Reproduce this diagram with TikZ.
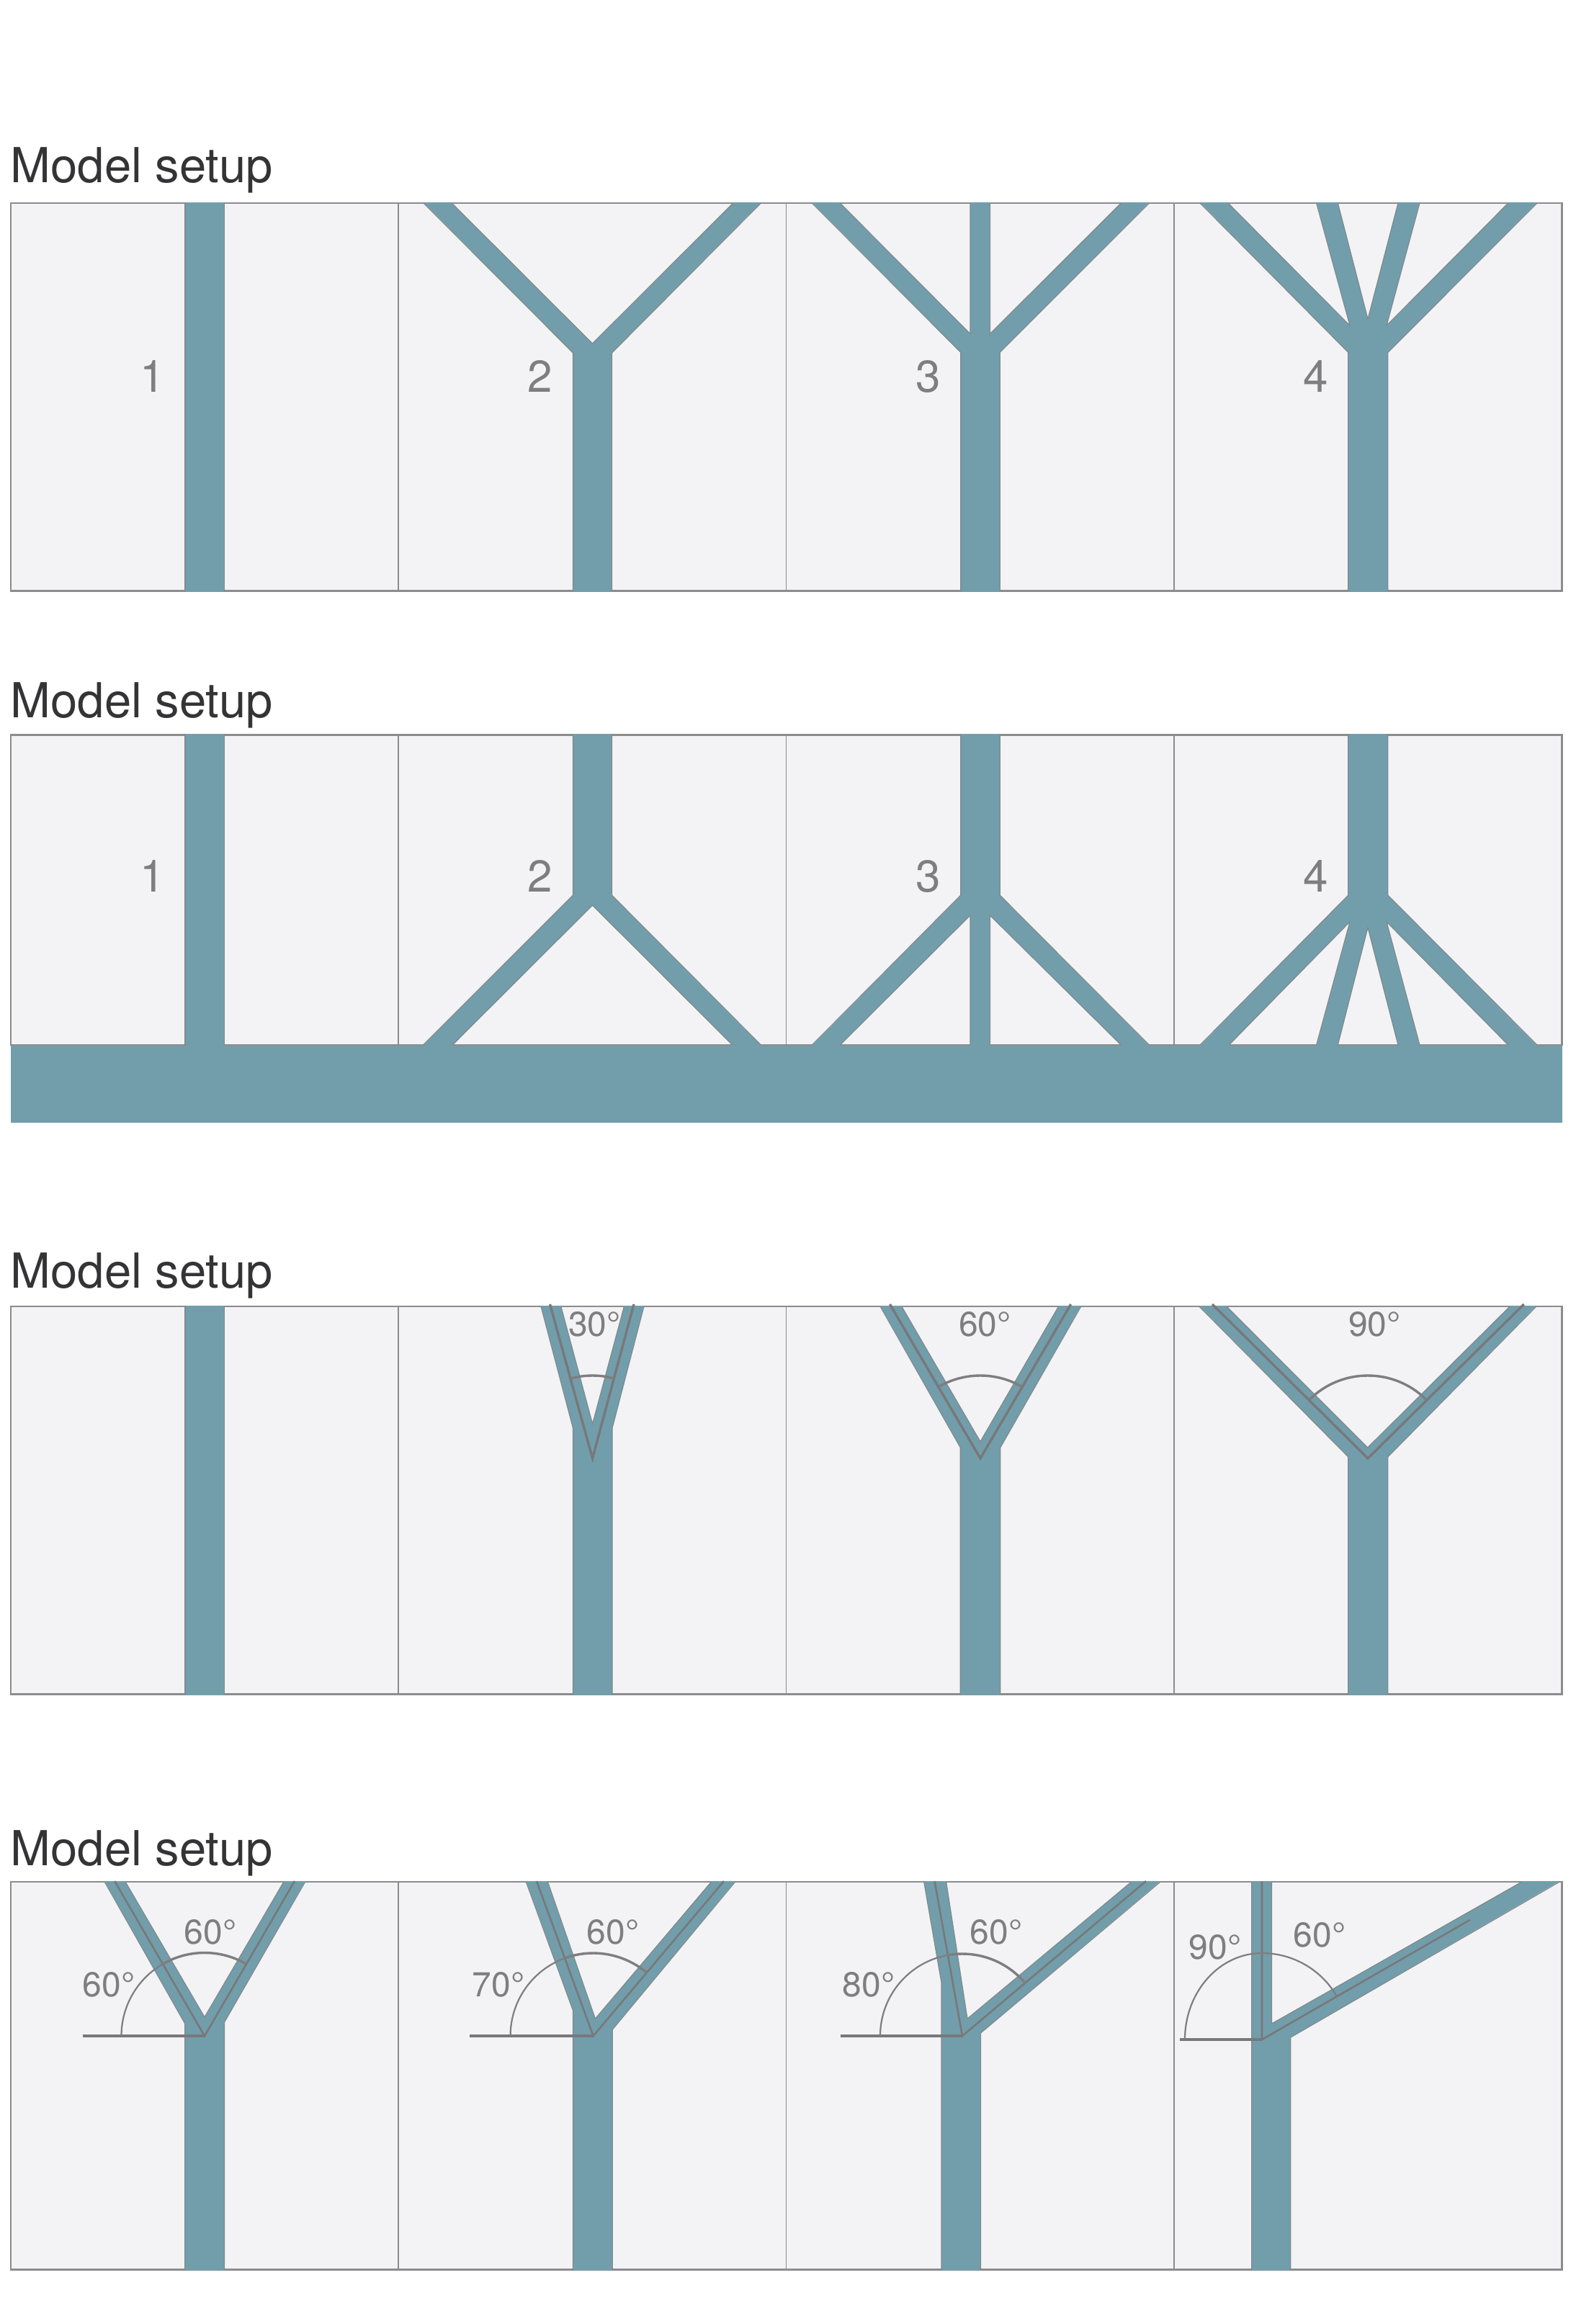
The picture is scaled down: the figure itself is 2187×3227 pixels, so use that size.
\documentclass[tikz,border=0pt]{standalone}
\usepackage{fontspec}
\setmainfont{TeX Gyre Heros}
\definecolor{teal0}{HTML}{729EAB}
\definecolor{edge0}{HTML}{7F8A8E}
\definecolor{pane0}{HTML}{F3F3F5}
\definecolor{rule0}{HTML}{8C8C8C}
\definecolor{ink0}{HTML}{7E7E80}
\definecolor{head0}{HTML}{343436}
\tikzset{
  panebg/.style={fill=pane0,draw=none},
  paneframe/.style={draw=rule0,line width=2.4pt},
  panediv/.style={draw=rule0,line width=1.5pt},
  tealbody/.style={fill=teal0,draw=none},
  tealedge/.style={draw=edge0,line width=1.2pt,line join=miter},
  gauge/.style={draw=ink0!95!black,line width=3.4pt,line join=miter,miter limit=10},
  arcthin/.style={draw=ink0,line width=2.2pt},
  arcthick/.style={draw=ink0,line width=3.4pt},
  headtxt/.style={anchor=base west,inner sep=0pt,text=head0,font=\fontsize{67}{67}\selectfont},
  numtxt/.style={anchor=base west,inner sep=0pt,text=ink0,font=\fontsize{62}{62}\selectfont},
  degtxt/.style={anchor=base west,inner sep=0pt,text=ink0,font=\fontsize{48}{48}\selectfont}
}
% full arc: centre x, centre y, radius, from angle, to angle, style
\newcommand{\myarc}[6]{\draw[#6] ({#1+#3*cos(#4)},{#2-#3*sin(#4)}) arc[start angle=-#4,end angle=-#5,radius=#3];}
\newcommand{\paneset}[2]{%
  \path[panebg] (15,#1) rectangle (2168.5,#2);
  \draw[panediv] (553,#1) -- (553,#2) (1091.5,#1) -- (1091.5,#2) (1630,#1) -- (1630,#2);
  \draw[paneframe] (15,#1) rectangle (2168.5,#2);
}
\newcommand{\stemone}[2]{%
  \path[tealbody] (257,#1) rectangle (311.5,#2);
  \draw[tealedge] (257,#1) -- (257,#2) (311.5,#1) -- (311.5,#2);
}
\begin{document}
\begin{tikzpicture}[x=1pt,y=-1pt]
\useasboundingbox (0,0) rectangle (2187,3227);
\path[fill=white] (0,0) rectangle (2187,3227);

% ---------- titles
\node[headtxt] (t1) at (14.5,253.6) {Model setup};
\node[headtxt] (t2) at (14.5,996.7) {Model setup};
\node[headtxt] (t3) at (14.5,1788.3) {Model setup};
\node[headtxt] (t4) at (14.5,2590) {Model setup};

% ---------- row 1
\paneset{282}{820.5}
\stemone{281}{821.5}
\path[tealbody] (795.5,821.5) -- (795.5,490) -- (588,281) -- (627,281) -- (822.5,477) -- (1018,281) -- (1056.5,281) -- (849.5,490) -- (849.5,821.5) -- cycle;
\draw[tealedge] (795.5,821.5) -- (795.5,490) -- (588,282) (627,282) -- (822.5,477) -- (1018,282) (1056.5,282) -- (849.5,490) -- (849.5,821.5);
\path[tealbody] (1333.8,821.5) -- (1333.8,489.4) -- (1127.3,281) -- (1166,281) -- (1347,463.5) -- (1347,281) -- (1374.4,281) -- (1374.4,463.5) -- (1556.5,281) -- (1595.4,281) -- (1388.2,489.4) -- (1388.2,821.5) -- cycle;
\draw[tealedge] (1333.8,821.5) -- (1333.8,489.4) -- (1127.3,282) (1166,282) -- (1347,463.5) -- (1347,282) (1374.4,282) -- (1374.4,463.5) -- (1556.5,282) (1595.4,282) -- (1388.2,489.4) -- (1388.2,821.5);
\path[tealbody] (1871.8,821.5) -- (1871.8,489.4) -- (1666,281) -- (1704.8,281) -- (1874,452) -- (1827.6,281) -- (1857.3,281) -- (1899,443) -- (1941,281) -- (1971,281) -- (1925,452) -- (2094,281) -- (2134,281) -- (1926.8,489.4) -- (1926.8,821.5) -- cycle;
\draw[tealedge] (1871.8,821.5) -- (1871.8,489.4) -- (1666,282) (1704.8,282) -- (1874,452) -- (1827.6,282) (1857.3,282) -- (1899,443) -- (1941,282) (1971,282) -- (1925,452) -- (2094,282) (2134,282) -- (1926.8,489.4) -- (1926.8,821.5);
\node[numtxt] (a1) at (194,544) {1};
\node[numtxt] (a2) at (732,544) {2};
\node[numtxt] (a3) at (1271,544) {3};
\node[numtxt] (a4) at (1809,544) {4};

% ---------- row 2
\paneset{1020.3}{1451}
\path[tealbody] (15,1451.5) rectangle (2168.5,1558.6);
\stemone{1019}{1452}
\path[tealbody] (795.5,1019) -- (795.5,1243) -- (587.5,1452) -- (628,1452) -- (822.5,1257) -- (1017,1452) -- (1056.5,1452) -- (849.5,1243) -- (849.5,1019) -- cycle;
\draw[tealedge] (795.5,1019) -- (795.5,1243) -- (587.5,1451) (628,1451) -- (822.5,1257) -- (1017,1451) (1056.5,1451) -- (849.5,1243) -- (849.5,1019);
\path[tealbody] (1333.8,1019) -- (1333.8,1243) -- (1127.3,1452) -- (1166,1452) -- (1347,1271) -- (1347,1452) -- (1374.4,1452) -- (1374.4,1271) -- (1556.5,1452) -- (1595.4,1452) -- (1388.2,1243) -- (1388.2,1019) -- cycle;
\draw[tealedge] (1333.8,1019) -- (1333.8,1243) -- (1127.3,1451) (1166,1451) -- (1347,1271) -- (1347,1451) (1374.4,1451) -- (1374.4,1271) -- (1556.5,1451) (1595.4,1451) -- (1388.2,1243) -- (1388.2,1019);
\path[tealbody] (1871.8,1019) -- (1871.8,1243) -- (1666,1452) -- (1706,1452) -- (1874,1280) -- (1827.6,1452) -- (1857.3,1452) -- (1899,1288) -- (1941,1452) -- (1971,1452) -- (1925,1280) -- (2094,1452) -- (2134,1452) -- (1926.8,1243) -- (1926.8,1019) -- cycle;
\draw[tealedge] (1871.8,1019) -- (1871.8,1243) -- (1666,1451) (1706,1451) -- (1874,1280) -- (1827.6,1451) (1857.3,1451) -- (1899,1288) -- (1941,1451) (1971,1451) -- (1925,1280) -- (2094,1451) (2134,1451) -- (1926.8,1243) -- (1926.8,1019);
\node[numtxt] (b1) at (194,1238) {1};
\node[numtxt] (b2) at (732,1238) {2};
\node[numtxt] (b3) at (1271,1238) {3};
\node[numtxt] (b4) at (1809,1238) {4};

% ---------- row 3
\paneset{1814}{2352.5}
\stemone{1813}{2353.5}
\path[tealbody] (795.5,2353.5) -- (795.5,1983) -- (751,1813) -- (778.8,1813) -- (822.6,1977) -- (866.5,1813) -- (894,1813) -- (850,1983) -- (850,2353.5) -- cycle;
\draw[tealedge] (795.5,2353.5) -- (795.5,1983) -- (751,1814) (778.8,1814) -- (822.6,1977) -- (866.5,1814) (894,1814) -- (850,1983) -- (850,2353.5);
\draw[gauge] (763.5,1811) -- (822.6,2025) -- (880,1811);
\myarc{822.6}{2025}{115}{105}{75}{arcthick}
\path[tealbody] (1333.3,2353.5) -- (1333.3,2010) -- (1222,1813) -- (1251.7,1813) -- (1361,2001.7) -- (1469.7,1813) -- (1500.8,1813) -- (1388.8,2010) -- (1388.8,2353.5) -- cycle;
\draw[tealedge] (1333.3,2353.5) -- (1333.3,2010) -- (1222,1814) (1251.7,1814) -- (1361,2001.7) -- (1469.7,1814) (1500.8,1814) -- (1388.8,2010) -- (1388.8,2353.5);
\draw[gauge] (1235.4,1811) -- (1361,2025) -- (1486.6,1811);
\myarc{1361}{2025}{115}{120}{60}{arcthick}
\path[tealbody] (1871.8,2353.5) -- (1871.8,2023) -- (1664.8,1813) -- (1702.7,1813) -- (1898.7,2010) -- (2096.4,1813) -- (2133,1813) -- (1926.8,2023) -- (1926.8,2353.5) -- cycle;
\draw[tealedge] (1871.8,2353.5) -- (1871.8,2023) -- (1664.8,1814) (1702.7,1814) -- (1898.7,2010) -- (2096.4,1814) (2133,1814) -- (1926.8,2023) -- (1926.8,2353.5);
\draw[gauge] (1683,1811) -- (1899,2025) -- (2115.6,1811);
\myarc{1899}{2025}{115}{135}{45}{arcthick}
\node[degtxt] (c2) at (789,1855) {30°};
\node[degtxt] (c3) at (1331,1855) {60°};
\node[degtxt] (c4) at (1872,1855) {90°};

% ---------- row 4
\paneset{2613}{3151.5}
\path[tealbody] (256.8,3152.5) -- (256.8,2810) -- (145.2,2612) -- (174,2612) -- (284,2800.7) -- (394,2612) -- (423.7,2612) -- (311.5,2808) -- (311.5,3152.5) -- cycle;
\draw[tealedge] (256.8,3152.5) -- (256.8,2810) -- (145.2,2613) (174,2613) -- (284,2800.7) -- (394,2613) (423.7,2613) -- (311.5,2808) -- (311.5,3152.5);
\draw[gauge,line width=2.6pt] (159.2,2612) -- (284,2827) -- (409,2612);
\draw[gauge] (115,2827) -- (284,2827);
\myarc{284}{2827}{115.5}{180}{120}{arcthin}
\myarc{284}{2827}{115.5}{120}{60}{arcthick}

\path[tealbody] (795.5,3152.5) -- (795.5,2791.7) -- (730.3,2612) -- (760.4,2612) -- (826.4,2803) -- (987.7,2612) -- (1020.7,2612) -- (850.2,2818.3) -- (850.2,3152.5) -- cycle;
\draw[tealedge] (795.5,3152.5) -- (795.5,2791.7) -- (730.3,2613) (760.4,2613) -- (826.4,2803) -- (987.7,2613) (1020.7,2613) -- (850.2,2818.3) -- (850.2,3152.5);
\draw[gauge,line width=2.6pt] (745,2612) -- (823.6,2827) -- (1005,2612);
\draw[gauge] (652.4,2827) -- (823.6,2827);
\myarc{823.6}{2827}{115}{180}{110}{arcthin}
\myarc{823.6}{2827}{115}{110}{50}{arcthick}

\path[tealbody] (1307,3152.5) -- (1307,2753) -- (1282.7,2612) -- (1313.6,2612) -- (1343,2803) -- (1571,2612) -- (1611,2612) -- (1361.5,2823) -- (1361.5,3152.5) -- cycle;
\draw[tealedge] (1307,3152.5) -- (1307,2753) -- (1282.7,2613) (1313.6,2613) -- (1343,2803) -- (1571,2613) (1611,2613) -- (1361.5,2823) -- (1361.5,3152.5);
\draw[gauge,line width=2.6pt] (1297.5,2612) -- (1336,2827) -- (1591,2612);
\draw[gauge] (1167,2827) -- (1336,2827);
\myarc{1336}{2827}{114}{180}{100}{arcthin}
\myarc{1336}{2827}{114}{100}{40}{arcthick}

\path[tealbody] (1737.8,3152.5) -- (1737.8,2612) -- (1765.4,2612) -- (1765.4,2810) -- (2113.3,2612) -- (2165.2,2612) -- (1791.8,2829) -- (1791.8,3152.5) -- cycle;
\draw[tealedge] (1737.8,3152.5) -- (1737.8,2613) (1765.4,2613) -- (1765.4,2810) -- (2113.3,2613) (2165.2,2613) -- (1791.8,2829) -- (1791.8,3152.5);
\draw[gauge,line width=2.6pt] (1752,2612) -- (1752,2832) -- (2041,2665.7);
\draw[gauge] (1637.7,2832) -- (1752,2832);
\draw[arcthin] (1645,2832) arc[start angle=-180,end angle=-90,x radius=107,y radius=120];
\myarc{1752}{2832}{120}{90}{30}{arcthin}

\node[degtxt] (d1) at (114.5,2772.7) {60°};
\node[degtxt] (d2) at (255.5,2699.3) {60°};
\node[degtxt] (d3) at (655.5,2772.7) {70°};
\node[degtxt] (d4) at (814.5,2699.3) {60°};
\node[degtxt] (d5) at (1169.5,2772.7) {80°};
\node[degtxt] (d6) at (1346.5,2699.3) {60°};
\node[degtxt] (d7) at (1650.5,2720.7) {90°};
\node[degtxt] (d8) at (1795.5,2703) {60°};
\end{tikzpicture}
\end{document}
